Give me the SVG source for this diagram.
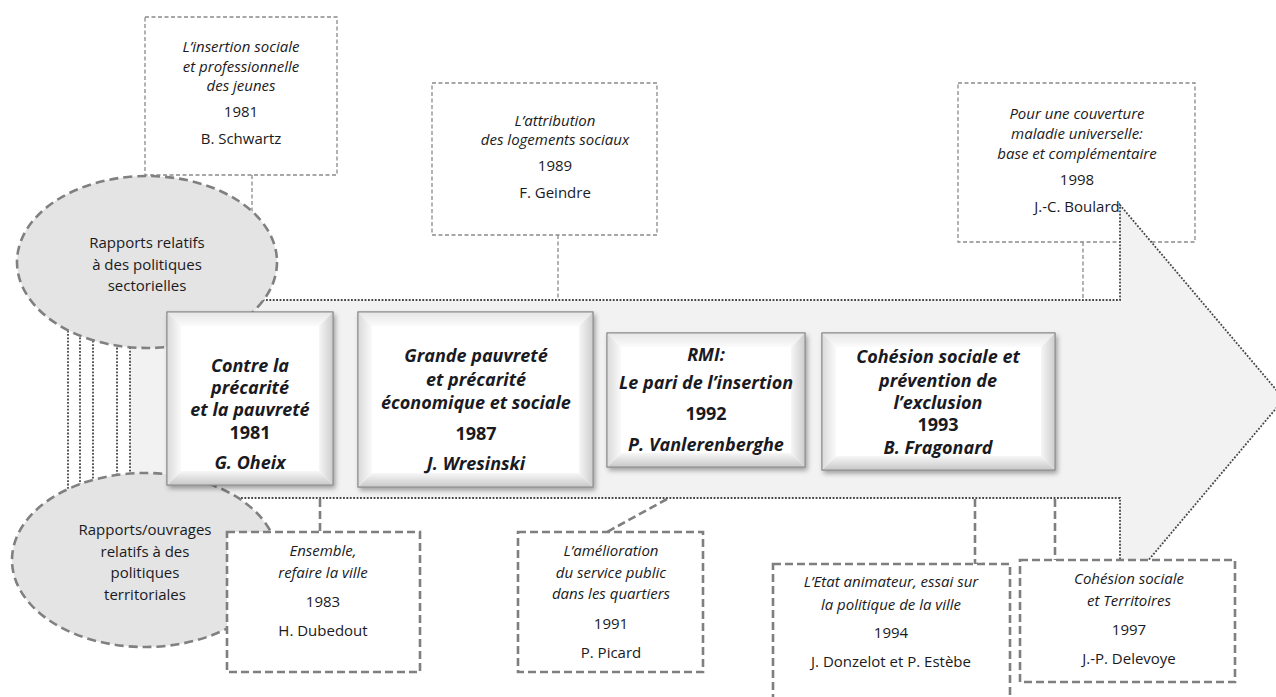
<svg xmlns="http://www.w3.org/2000/svg" width="1276" height="697" viewBox="0 0 1276 697">
  <defs>
    <style>
      text { font-family: "Open Sans", "Liberation Sans", sans-serif; fill: #1a1a22; text-anchor: middle; }
      .t { font-size: 15px; font-style: italic; }
      .n { font-size: 15px; }
      .b { font-size: 18px; font-weight: bold; font-style: italic; }
      .by { font-size: 18px; font-weight: bold; }
      .thin { fill: #ffffff; stroke: #8a8a8a; stroke-width: 1.3; stroke-dasharray: 4 2.5; }
      .thick { fill: #ffffff; stroke: #7f7f7f; stroke-width: 2.6; stroke-dasharray: 8 4; }
      .cthin { fill: none; stroke: #8a8a8a; stroke-width: 1.3; stroke-dasharray: 4 2.5; }
      .cthick { fill: none; stroke: #7f7f7f; stroke-width: 2.6; stroke-dasharray: 8 4; }
      .dot { fill: none; stroke: #454545; stroke-width: 1.8; stroke-dasharray: 1.8 1.6; }
      .oval { fill: #e4e4e4; stroke: #808080; stroke-width: 2.6; stroke-dasharray: 9 5; }
      .face { fill: #ffffff; stroke: #8c8c8c; stroke-width: 1; }
      .bt { fill: url(#bevTop); }
      .bb { fill: url(#bevBottom); }
      .bl { fill: url(#bevLeft); }
      .br { fill: url(#bevRight); }
    </style>
    <linearGradient id="bevTop" x1="0" y1="0" x2="0" y2="1">
      <stop offset="0" stop-color="#e6e6e6"/>
      <stop offset="1" stop-color="#fbfbfb"/>
    </linearGradient>
    <linearGradient id="bevBottom" x1="0" y1="0" x2="0" y2="1">
      <stop offset="0" stop-color="#f7f7f7"/>
      <stop offset="1" stop-color="#c8c8c8"/>
    </linearGradient>
    <linearGradient id="bevLeft" x1="0" y1="0" x2="1" y2="0">
      <stop offset="0" stop-color="#dadada"/>
      <stop offset="1" stop-color="#fafafa"/>
    </linearGradient>
    <linearGradient id="bevRight" x1="0" y1="0" x2="1" y2="0">
      <stop offset="0" stop-color="#f6f6f6"/>
      <stop offset="1" stop-color="#cdcdcd"/>
    </linearGradient>
    <filter id="shadow" x="-10%" y="-10%" width="125%" height="125%">
      <feDropShadow dx="2" dy="3" stdDeviation="2.5" flood-color="#000000" flood-opacity="0.35"/>
    </filter>
  </defs>

  <rect width="1276" height="697" fill="#ffffff"/>

  <!-- reports on sector policies (top row) -->
  <g id="report-schwartz">
    <rect class="thin" x="145" y="17" width="192" height="158"/>
    <text class="t" x="241" y="52">L’insertion sociale</text>
    <text class="t" x="241" y="72">et professionnelle</text>
    <text class="t" x="241" y="91">des jeunes</text>
    <text class="n" x="241" y="117">1981</text>
    <text class="n" x="241" y="144">B. Schwartz</text>
  </g>
  <g id="report-geindre">
    <rect class="thin" x="432" y="83" width="225" height="152"/>
    <text class="t" x="555" y="126">L’attribution</text>
    <text class="t" x="555" y="145">des logements sociaux</text>
    <text class="n" x="555" y="171">1989</text>
    <text class="n" x="555" y="198">F. Geindre</text>
  </g>
  <g id="report-boulard">
    <rect class="thin" x="958" y="83" width="237" height="159"/>
    <text class="t" x="1077" y="119">Pour une couverture</text>
    <text class="t" x="1077" y="139">maladie universelle:</text>
    <text class="t" x="1077" y="159">base et complémentaire</text>
    <text class="n" x="1077" y="185">1998</text>
    <text class="n" x="1077" y="212">J.-C. Boulard</text>
  </g>

  <!-- links between the reports and the timeline arrow -->
  <g id="connectors">
    <line class="cthin" x1="252" y1="175" x2="252" y2="218"/>
    <line class="cthin" x1="558" y1="235" x2="558" y2="300"/>
    <line class="cthin" x1="1083" y1="242" x2="1083" y2="300"/>
    <line class="cthick" x1="320" y1="499" x2="320" y2="532"/>
    <line class="cthick" x1="667" y1="499" x2="607" y2="532"/>
    <polyline class="cthick" points="975,499 975,564 985,564"/>
    <line class="cthick" x1="1055" y1="499" x2="1055" y2="560"/>
    <line class="dot" x1="68" y1="300" x2="68" y2="498"/>
    <line class="dot" x1="80" y1="300" x2="80" y2="498"/>
    <line class="dot" x1="93" y1="300" x2="93" y2="498"/>
    <line class="dot" x1="117" y1="300" x2="117" y2="498"/>
  </g>

  <!-- timeline arrow -->
  <g id="timeline-arrow">
    <path d="M130,300 H1120 V205 L1284,399 L1120,594 V498 H130 Z" fill="#f2f2f2"/>
    <path class="dot" d="M130,300 H1120 V205 L1284,399 L1120,594 V498 H130 Z"/>
  </g>

  <!-- category ovals -->
  <g id="oval-sectorielles">
    <ellipse class="oval" cx="147" cy="262" rx="130" ry="86"/>
    <text class="n" x="147" y="248">Rapports relatifs</text>
    <text class="n" x="147" y="270">à des politiques</text>
    <text class="n" x="147" y="291">sectorielles</text>
  </g>
  <g id="oval-territoriales">
    <ellipse class="oval" cx="145" cy="560" rx="133" ry="87"/>
    <text class="n" x="145" y="535">Rapports/ouvrages</text>
    <text class="n" x="145" y="557">relatifs à des</text>
    <text class="n" x="145" y="578">politiques</text>
    <text class="n" x="145" y="600">territoriales</text>
  </g>

  <!-- main reports on the timeline -->
  <g id="report-oheix">
    <rect class="face" x="167" y="312" width="166" height="173" filter="url(#shadow)"/>
    <polygon class="bt" points="167,312 333,312 319,326 181,326"/>
    <polygon class="bb" points="167,485 333,485 319,471 181,471"/>
    <polygon class="bl" points="167,312 181,326 181,471 167,485"/>
    <polygon class="br" points="333,312 319,326 319,471 333,485"/>
    <rect x="167" y="312" width="166" height="173" fill="none" stroke="#8c8c8c"/>
    <text class="b" x="250" y="372">Contre la</text>
    <text class="b" x="250" y="394">précarité</text>
    <text class="b" x="250" y="416">et la pauvreté</text>
    <text class="by" x="250" y="439">1981</text>
    <text class="b" x="250" y="469">G. Oheix</text>
  </g>
  <g id="report-wresinski">
    <rect class="face" x="358" y="312" width="235" height="175" filter="url(#shadow)"/>
    <polygon class="bt" points="358,312 593,312 579,326 372,326"/>
    <polygon class="bb" points="358,487 593,487 579,473 372,473"/>
    <polygon class="bl" points="358,312 372,326 372,473 358,487"/>
    <polygon class="br" points="593,312 579,326 579,473 593,487"/>
    <rect x="358" y="312" width="235" height="175" fill="none" stroke="#8c8c8c"/>
    <text class="b" x="476" y="362">Grande pauvreté</text>
    <text class="b" x="476" y="386">et précarité</text>
    <text class="b" x="476" y="409">économique et sociale</text>
    <text class="by" x="476" y="440">1987</text>
    <text class="b" x="476" y="470">J. Wresinski</text>
  </g>
  <g id="report-vanlerenberghe">
    <rect class="face" x="607" y="333" width="198" height="134" filter="url(#shadow)"/>
    <polygon class="bt" points="607,333 805,333 791,347 621,347"/>
    <polygon class="bb" points="607,467 805,467 791,453 621,453"/>
    <polygon class="bl" points="607,333 621,347 621,453 607,467"/>
    <polygon class="br" points="805,333 791,347 791,453 805,467"/>
    <rect x="607" y="333" width="198" height="134" fill="none" stroke="#8c8c8c"/>
    <text class="b" x="706" y="361">RMI:</text>
    <text class="b" x="706" y="389">Le pari de l’insertion</text>
    <text class="by" x="706" y="420">1992</text>
    <text class="b" x="706" y="451">P. Vanlerenberghe</text>
  </g>
  <g id="report-fragonard">
    <rect class="face" x="822" y="333" width="233" height="137" filter="url(#shadow)"/>
    <polygon class="bt" points="822,333 1055,333 1041,347 836,347"/>
    <polygon class="bb" points="822,470 1055,470 1041,456 836,456"/>
    <polygon class="bl" points="822,333 836,347 836,456 822,470"/>
    <polygon class="br" points="1055,333 1041,347 1041,456 1055,470"/>
    <rect x="822" y="333" width="233" height="137" fill="none" stroke="#8c8c8c"/>
    <text class="b" x="938" y="363">Cohésion sociale et</text>
    <text class="b" x="938" y="387">prévention de</text>
    <text class="b" x="938" y="409">l’exclusion</text>
    <text class="by" x="938" y="431">1993</text>
    <text class="b" x="938" y="454">B. Fragonard</text>
  </g>

  <!-- reports on territorial policies (bottom row) -->
  <g id="report-dubedout">
    <rect class="thick" x="227" y="532" width="193" height="140"/>
    <text class="t" x="323" y="556">Ensemble,</text>
    <text class="t" x="323" y="578">refaire la ville</text>
    <text class="n" x="323" y="607">1983</text>
    <text class="n" x="323" y="636">H. Dubedout</text>
  </g>
  <g id="report-picard">
    <rect class="thick" x="518" y="532" width="185" height="140"/>
    <text class="t" x="611" y="556">L’amélioration</text>
    <text class="t" x="611" y="578">du service public</text>
    <text class="t" x="611" y="599">dans les quartiers</text>
    <text class="n" x="611" y="629">1991</text>
    <text class="n" x="611" y="658">P. Picard</text>
  </g>
  <g id="report-donzelot">
    <rect class="thick" x="773" y="564" width="237" height="150"/>
    <text class="t" x="891" y="587">L’Etat animateur, essai sur</text>
    <text class="t" x="891" y="610">la politique de la ville</text>
    <text class="n" x="891" y="638">1994</text>
    <text class="n" x="891" y="667">J. Donzelot et P. Estèbe</text>
  </g>
  <g id="report-delevoye">
    <rect class="thick" x="1020" y="560" width="215" height="122"/>
    <text class="t" x="1129" y="584">Cohésion sociale</text>
    <text class="t" x="1129" y="606">et Territoires</text>
    <text class="n" x="1129" y="635">1997</text>
    <text class="n" x="1129" y="664">J.-P. Delevoye</text>
  </g>
</svg>
